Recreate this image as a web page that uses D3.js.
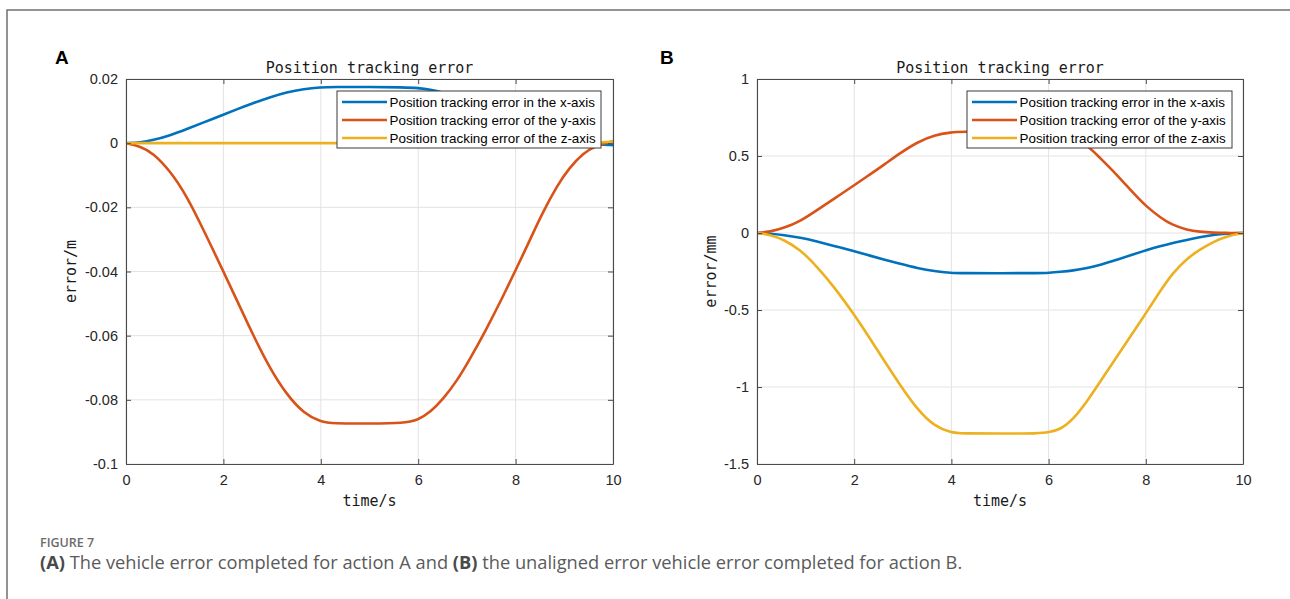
<!DOCTYPE html>
<html>
<head>
<meta charset="utf-8">
<script src="https://cdn.jsdelivr.net/npm/d3@7"></script>
<style>
  body { margin: 0; background: #fff; }
  svg { display: block; }
</style>
</head>
<body>
<script>
var w = 1290;
var h = 599;

// panel A: time samples and errors (m)
var timeA = [0, 0.3, 0.55, 0.9, 1.25, 1.6, 2.0, 2.3, 2.6, 2.95, 3.3, 3.65, 4.0, 4.25, 5.0, 5.7, 6.0, 6.25, 6.5, 6.8, 7.05, 7.4, 7.75, 8.0, 8.3, 8.55, 8.85, 9.1, 9.4, 9.65, 10];
var xErrA = [0, 0.0002, 0.0009, 0.0024, 0.0044, 0.0065, 0.0089, 0.0107, 0.0124, 0.0143, 0.0159, 0.0169, 0.0174, 0.0175, 0.0175, 0.0174, 0.0172, 0.0167, 0.0158, 0.0142, 0.0127, 0.0105, 0.0082, 0.0066, 0.0046, 0.0031, 0.0016, 0.0007, 0.0000, -0.0004, -0.0006];
var yErrA = [0, -0.001, -0.003, -0.0085, -0.0165, -0.0273, -0.04, -0.0497, -0.0595, -0.0701, -0.0784, -0.0842, -0.0869, -0.0874, -0.0874, -0.0873, -0.0863, -0.0838, -0.08, -0.074, -0.0676, -0.058, -0.0475, -0.0396, -0.03, -0.0218, -0.0133, -0.0077, -0.003, -0.0007, 0.0006];
var zErrA = [0, 0, 0, 0, 0, 0, 0, 0, 0, 0, 0, 0, 0, 0, 0, 0, 0, 0, 0, 0, 0, 0, 0, 0, 0, 0, 0, 0, 0, 0.0001, 0.0005];

// panel B: time samples and errors (mm)
var timeB = [0, 0.27, 0.55, 0.89, 1.23, 1.6, 2.0, 2.3, 2.6, 2.95, 3.3, 3.65, 4.0, 4.2, 5.0, 5.8, 6.0, 6.25, 6.5, 6.8, 7.05, 7.4, 7.75, 8.0, 8.3, 8.55, 8.85, 9.1, 9.4, 9.65, 10];
var xErrB = [0, -0.004, -0.013, -0.03, -0.055, -0.085, -0.118, -0.145, -0.171, -0.2, -0.228, -0.249, -0.259, -0.261, -0.261, -0.261, -0.259, -0.252, -0.244, -0.227, -0.208, -0.174, -0.138, -0.113, -0.085, -0.065, -0.044, -0.028, -0.012, -0.004, 0];
var yErrB = [0, 0.008, 0.032, 0.076, 0.148, 0.225, 0.31, 0.375, 0.44, 0.52, 0.59, 0.636, 0.654, 0.658, 0.658, 0.657, 0.655, 0.645, 0.622, 0.57, 0.49, 0.38, 0.256, 0.175, 0.1, 0.051, 0.02, 0.008, 0.002, 0.0005, 0];
var zErrB = [0, -0.011, -0.043, -0.108, -0.216, -0.355, -0.53, -0.672, -0.822, -0.99, -1.147, -1.255, -1.297, -1.302, -1.302, -1.302, -1.295, -1.275, -1.212, -1.09, -0.97, -0.805, -0.64, -0.522, -0.375, -0.26, -0.165, -0.11, -0.055, -0.022, 0];

var xTicks = [0, 2, 4, 6, 8, 10];
var yTicksA = [0.02, 0, -0.02, -0.04, -0.06, -0.08, -0.1];
var yTicksB = [1, 0.5, 0, -0.5, -1, -1.5];

var seriesNames = ["Position tracking error in the x-axis",
                   "Position tracking error of the y-axis",
                   "Position tracking error of the z-axis"];
var colors = ["#0072BD", "#D95319", "#EDB120"];

var panels = [
  {letter: "A", letterX: 55, left: 126, right: 613, yDomain: [-0.1, 0.02], yTicks: yTicksA,
   ylabel: "error/m", ylabelX: 76, time: timeA, series: [xErrA, yErrA, zErrA],
   legend: {x: 337, y: 91, w: 264}},
  {letter: "B", letterX: 660, left: 757, right: 1243, yDomain: [-1.5, 1], yTicks: yTicksB,
   ylabel: "error/mm", ylabelX: 716, time: timeB, series: [xErrB, yErrB, zErrB],
   legend: {x: 967, y: 91, w: 265}}
];

var plotTop = 79, plotBottom = 464;
var axisColor = "#262626";
var monoFont = "'DejaVu Sans Mono', monospace";
var sansFont = "'Liberation Sans', Arial, sans-serif";

var svg = d3.select("body")
            .append("svg")
            .attr("width", w)
            .attr("height", h);

svg.append("rect").attr("width", w).attr("height", h).attr("fill", "#fff");

// page frame
svg.append("path")
   .attr("d", "M7," + h + "V10H" + w)
   .attr("fill", "none")
   .attr("stroke", "#707070")
   .attr("stroke-width", 1.5);

panels.forEach(function(p, pi) {
  var xScale = d3.scaleLinear().domain([0, 10]).range([p.left, p.right]);
  var yScale = d3.scaleLinear().domain(p.yDomain).range([plotBottom, plotTop]);

  var g = svg.append("g");

  // grid
  g.selectAll("vgrid")
   .data(xTicks)
   .enter()
   .append("line")
   .attr("x1", function(d) { return xScale(d); })
   .attr("x2", function(d) { return xScale(d); })
   .attr("y1", plotTop)
   .attr("y2", plotBottom)
   .attr("stroke", "#e3e3e3");

  g.selectAll("hgrid")
   .data(p.yTicks)
   .enter()
   .append("line")
   .attr("x1", p.left)
   .attr("x2", p.right)
   .attr("y1", function(d) { return yScale(d); })
   .attr("y2", function(d) { return yScale(d); })
   .attr("stroke", "#e3e3e3");

  // curves
  var clipId = "clip" + pi;
  svg.append("clipPath").attr("id", clipId)
     .append("rect")
     .attr("x", p.left).attr("y", plotTop - 2)
     .attr("width", p.right - p.left).attr("height", plotBottom - plotTop + 4);

  var line = d3.line()
               .x(function(d, i) { return xScale(p.time[i]); })
               .y(function(d) { return yScale(d); })
               .curve(d3.curveBasis);

  p.series.forEach(function(s, i) {
    g.append("path")
     .datum(s)
     .attr("clip-path", "url(#" + clipId + ")")
     .attr("d", line)
     .attr("fill", "none")
     .attr("stroke", colors[i])
     .attr("stroke-width", 2.6)
     .attr("stroke-linejoin", "round");
  });

  // axes (ticks inside, box on)
  var fmt = function(d) { return String(+d.toFixed(3)); };
  var xAxis = d3.axisBottom(xScale).tickValues(xTicks).tickSizeInner(-5).tickSizeOuter(0).tickPadding(11).tickFormat(fmt);
  var yAxis = d3.axisLeft(yScale).tickValues(p.yTicks).tickSizeInner(-5).tickSizeOuter(0).tickPadding(8).tickFormat(fmt);

  var gx = g.append("g").attr("transform", "translate(0," + plotBottom + ")").call(xAxis);
  var gy = g.append("g").attr("transform", "translate(" + p.left + ",0)").call(yAxis);
  var gxt = g.append("g").attr("transform", "translate(0," + plotTop + ")")
             .call(d3.axisTop(xScale).tickValues(xTicks).tickSizeInner(-5).tickSizeOuter(0).tickFormat(""));
  var gyr = g.append("g").attr("transform", "translate(" + p.right + ",0)")
             .call(d3.axisRight(yScale).tickValues(p.yTicks).tickSizeInner(-5).tickSizeOuter(0).tickFormat(""));

  [gx, gy, gxt, gyr].forEach(function(a) {
    a.attr("font-size", null).attr("font-family", null);
    a.selectAll("path").attr("stroke", "#4a4a4a").attr("stroke-width", 1.1);
    a.selectAll("line").attr("stroke", "#4a4a4a");
    a.selectAll("text")
     .attr("fill", axisColor)
     .style("font-family", sansFont)
     .style("font-size", "14.5px");
  });

  // legend
  var lg = g.append("g").attr("transform", "translate(" + p.legend.x + "," + p.legend.y + ")");
  lg.append("rect")
    .attr("width", p.legend.w)
    .attr("height", 57)
    .attr("fill", "#fff")
    .attr("stroke", "#3a3a3a")
    .attr("stroke-width", 1);

  seriesNames.forEach(function(name, i) {
    var yy = 11 + i * 18;
    lg.append("line")
      .attr("x1", 5).attr("x2", 50)
      .attr("y1", yy).attr("y2", yy)
      .attr("stroke", colors[i])
      .attr("stroke-width", 2.6);
    lg.append("text")
      .attr("x", 52.5)
      .attr("y", yy)
      .attr("dy", "0.35em")
      .attr("font-family", sansFont)
      .attr("font-size", 13.4)
      .attr("fill", "#000")
      .text(name);
  });

  // titles and labels
  var cx = (p.left + p.right) / 2;
  g.append("text")
   .attr("x", cx).attr("y", 73)
   .attr("text-anchor", "middle")
   .attr("font-family", monoFont)
   .attr("font-size", 15)
   .attr("fill", "#1a1a1a")
   .text("Position tracking error");

  g.append("text")
   .attr("x", cx).attr("y", 506)
   .attr("text-anchor", "middle")
   .attr("font-family", monoFont)
   .attr("font-size", 15)
   .attr("fill", "#1a1a1a")
   .text("time/s");

  g.append("text")
   .attr("transform", "translate(" + p.ylabelX + "," + ((plotTop + plotBottom) / 2) + ") rotate(-90)")
   .attr("text-anchor", "middle")
   .attr("font-family", monoFont)
   .attr("font-size", 15)
   .attr("fill", "#1a1a1a")
   .text(p.ylabel);

  svg.append("text")
     .attr("x", p.letterX).attr("y", 64)
     .attr("font-family", sansFont)
     .attr("font-weight", "bold")
     .attr("font-size", 19)
     .attr("fill", "#000")
     .text(p.letter);
});

// caption
svg.append("text")
   .attr("x", 40).attr("y", 547)
   .attr("font-family", "'Open Sans', sans-serif")
   .attr("font-weight", 600)
   .attr("font-size", 12.5)
   .attr("fill", "#6b6b6b")
   .text("FIGURE 7");

var caption = svg.append("text")
   .attr("x", 40).attr("y", 569)
   .attr("font-family", "'Open Sans', sans-serif")
   .attr("font-size", 15)
   .attr("fill", "#5a5a5a");

var parts = [["(A)", true], [" The vehicle error completed for action A and ", false],
             ["(B)", true], [" the unaligned error vehicle error completed for action B.", false]];
parts.forEach(function(pt) {
  caption.append("tspan")
         .attr("font-weight", pt[1] ? 700 : 400)
         .attr("fill", pt[1] ? "#4a4a4a" : "#5a5a5a")
         .text(pt[0]);
});
var capLen = caption.node().getComputedTextLength();
caption.attr("font-size", 15 * 923 / capLen);
</script>
</body>
</html>
